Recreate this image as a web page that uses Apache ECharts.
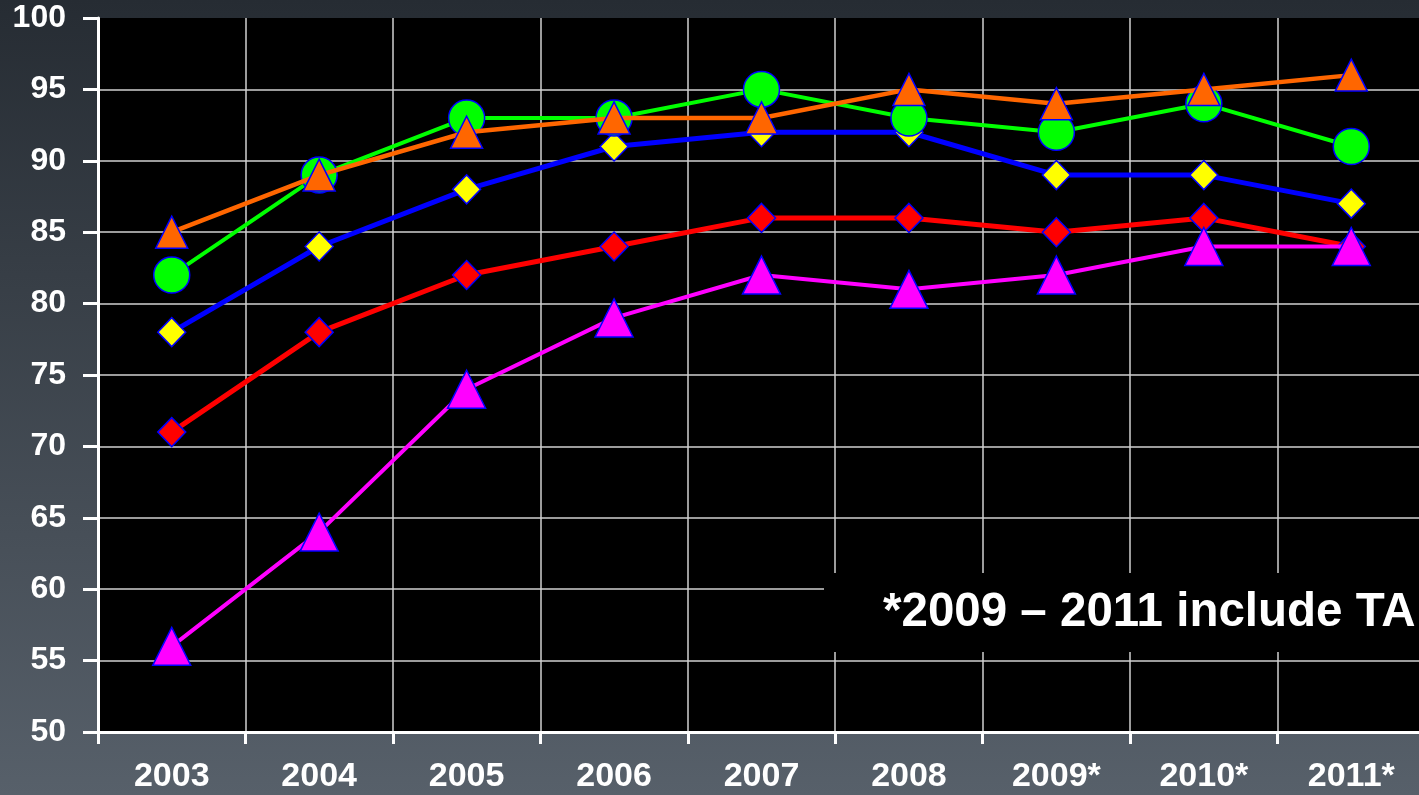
<!DOCTYPE html>
<html>
<head>
<meta charset="utf-8">
<script src="https://cdn.jsdelivr.net/npm/echarts@6/dist/echarts.min.js"></script>
<style>
html,body{margin:0;padding:0;width:1419px;height:795px;overflow:hidden;}
#c{width:1419px;height:795px;}
</style>
</head>
<body>
<div id="c"></div>
<script>
const categories = ['2003','2004','2005','2006','2007','2008','2009*','2010*','2011*'];
const orangeVals  = [85, 89, 92, 93, 93, 95, 94, 95, 96];
const greenVals   = [82, 89, 93, 93, 95, 93, 92, 94, 91];
const blueVals    = [78, 84, 88, 91, 92, 92, 89, 89, 87];
const redVals     = [71, 78, 82, 84, 86, 86, 85, 86, 84];
const magentaVals = [56, 64, 74, 79, 82, 81, 82, 84, 84];
const noteText = '*2009 – 2011 include TA';

const chart = echarts.init(document.getElementById('c'));
const font = '"Liberation Sans", Arial, sans-serif';
const gridColors = ['transparent','#d0d0d0','#d0d0d0','#d0d0d0','#d0d0d0','#d0d0d0','#d0d0d0','#d0d0d0','#d0d0d0','#d0d0d0','transparent'];

function mk(name, data, lineColor, fill, symbol, size, lw, z) {
  return {
    name: name, type: 'line', data: data,
    symbol: symbol, symbolSize: size,
    lineStyle: {color: lineColor, width: lw},
    itemStyle: {color: fill, borderColor: '#0000ff', borderWidth: 1.5},
    z: z, animation: false
  };
}

chart.setOption({
  animation: false,
  backgroundColor: {type:'linear', x:0, y:0, x2:0, y2:1,
    colorStops:[{offset:0,color:'#262c33'},{offset:1,color:'#57606a'}]},
  grid: {left: 98, top: 18, width: 1327, height: 714, show: true, backgroundColor: '#000', borderWidth: 0,
         containLabel: false, outerBoundsMode: 'none'},
  xAxis: {
    type: 'category', data: categories, boundaryGap: true,
    axisLine: {show: true, lineStyle: {color: '#fff', width: 3}},
    axisTick: {show: true, length: 12, lineStyle: {color: '#fff', width: 3}},
    axisLabel: {color: '#fff', fontSize: 34, fontWeight: 'bold', fontFamily: font, margin: 28},
    splitLine: {show: true, lineStyle: {color: '#d0d0d0', width: 1.5}},
    z: 3
  },
  yAxis: {
    type: 'value', min: 50, max: 100, interval: 5,
    axisLine: {show: true, lineStyle: {color: '#fff', width: 3}},
    axisTick: {show: true, length: 15, lineStyle: {color: '#fff', width: 3}},
    axisLabel: {color: '#fff', fontSize: 32, fontWeight: 'bold', fontFamily: font, margin: 32},
    splitLine: {show: true, lineStyle: {color: gridColors, width: 1.5}},
    z: 3
  },
  graphic: [
    {type: 'rect', z: 50, shape: {x: 824, y: 573, width: 600, height: 79}, style: {fill: '#000'}},
    {type: 'text', z: 51, x: 883, y: 613, style: {text: noteText, fill: '#fff', font: 'bold 47.5px "Liberation Sans", Arial, sans-serif', textVerticalAlign: 'middle'}}
  ],
  series: [
    mk('red', redVals, '#ff0000', '#ff0000', 'diamond', [28, 29], 5, 4),
    mk('blue', blueVals, '#0000ff', '#ffff00', 'diamond', [28, 29], 5, 5),
    mk('green', greenVals, '#00ff00', '#00ff00', 'circle', 36, 4, 6),
    mk('orange', orangeVals, '#ff6600', '#ff6600', 'triangle', [32, 32], 4.5, 7),
    mk('magenta', magentaVals, '#ff00ff', '#ff00ff', 'triangle', [38, 38], 4, 8)
  ]
});
</script>
</body>
</html>
